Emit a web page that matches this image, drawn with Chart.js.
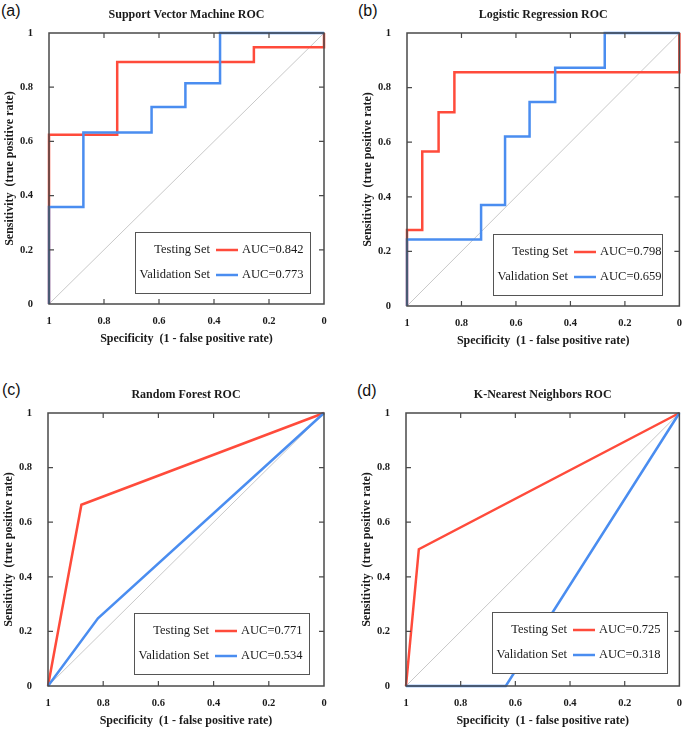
<!DOCTYPE html>
<html>
<head>
<meta charset="utf-8">
<script src="https://cdn.jsdelivr.net/npm/chart.js@4.4.1/dist/chart.umd.min.js"></script>
<style>
body { margin: 0; background: #fff; width: 685px; height: 730px; position: relative; overflow: hidden; }
canvas { position: absolute; }
.tag { position: absolute; font-family: "Liberation Sans", Arial, sans-serif; font-size: 16px; line-height: 16px; color: #111; }
</style>
</head>
<body>
<div class="tag" style="left:1px;top:3px">(a)</div>
<div class="tag" style="left:358px;top:3px">(b)</div>
<div class="tag" style="left:2px;top:382px">(c)</div>
<div class="tag" style="left:357px;top:383px">(d)</div>
<canvas id="svm" width="342" height="365" style="left:0;top:0"></canvas>
<canvas id="lr" width="343" height="365" style="left:342px;top:0"></canvas>
<canvas id="rf" width="342" height="365" style="left:0;top:365px"></canvas>
<canvas id="knn" width="343" height="365" style="left:342px;top:365px"></canvas>
<script>
// values (x = specificity, y = sensitivity)
const tickLabels = ['0', '0.2', '0.4', '0.6', '0.8', '1'];
const seriesNames = ['Testing Set', 'Validation Set'];

const svmTestX = [1, 1, 0.752, 0.752, 0.255, 0.255, 0, 0];
const svmTestY = [0, 0.625, 0.625, 0.893, 0.893, 0.947, 0.947, 1];
const svmValX = [1, 1, 0.875, 0.875, 0.627, 0.627, 0.504, 0.504, 0.378, 0.378, 0];
const svmValY = [0, 0.358, 0.358, 0.633, 0.633, 0.727, 0.727, 0.815, 0.815, 1, 1];

const lrTestX = [1, 1, 0.944, 0.944, 0.884, 0.884, 0.826, 0.826, 0, 0];
const lrTestY = [0, 0.278, 0.278, 0.566, 0.566, 0.710, 0.710, 0.856, 0.856, 1];
const lrValX = [1, 1, 0.728, 0.728, 0.640, 0.640, 0.550, 0.550, 0.456, 0.456, 0.274, 0.274, 0];
const lrValY = [0, 0.244, 0.244, 0.370, 0.370, 0.621, 0.621, 0.747, 0.747, 0.873, 0.873, 1, 1];

const rfTestX = [1, 0.879, 0];
const rfTestY = [0, 0.664, 1];
const rfValX = [1, 0.819, 0];
const rfValY = [0, 0.248, 1];

const knnTestX = [1, 0.953, 0];
const knnTestY = [0, 0.501, 1];
const knnValX = [1, 0.635, 0];
const knnValY = [0, 0, 1];

const diagX = [1, 0];
const diagY = [0, 1];

const aucSvm = ['AUC=0.842', 'AUC=0.773'];
const aucLr = ['AUC=0.798', 'AUC=0.659'];
const aucRf = ['AUC=0.771', 'AUC=0.534'];
const aucKnn = ['AUC=0.725', 'AUC=0.318'];

const RED = '#ff4b3b';
const BLUE = '#4a8df0';
const SERIF = '"Liberation Serif", "Times New Roman", serif';

function pts(xs, ys) {
    return xs.map((x, i) => ({ x: x, y: ys[i] }));
}

// frame, inner ticks, title and the AUC box
const rocDeco = {
    id: 'rocDeco',
    afterDatasetsDraw(chart, args, opts) {
        const ctx = chart.ctx;
        const a = chart.chartArea;
        const sx = chart.scales.x, sy = chart.scales.y;
        ctx.save();
        ctx.strokeStyle = '#4a4a4a';
        ctx.lineWidth = 1.5;
        ctx.strokeRect(a.left, a.top, a.right - a.left, a.bottom - a.top);
        ctx.lineWidth = 1.2;
        ctx.beginPath();
        [0.2, 0.4, 0.6, 0.8].forEach(v => {
            const px = sx.getPixelForValue(v);
            ctx.moveTo(px, a.bottom); ctx.lineTo(px, a.bottom - 5);
            ctx.moveTo(px, a.top); ctx.lineTo(px, a.top + 5);
            const py = sy.getPixelForValue(v);
            ctx.moveTo(a.left, py); ctx.lineTo(a.left + 5, py);
            ctx.moveTo(a.right, py); ctx.lineTo(a.right - 5, py);
        });
        ctx.stroke();

        ctx.fillStyle = '#1a1a1a';
        ctx.font = 'bold 12px ' + SERIF;
        ctx.textAlign = 'center';
        ctx.textBaseline = 'middle';
        ctx.fillText(opts.title, (a.left + a.right) / 2, a.top - 18.5);

        // legend box
        const bx = a.left + 86, bw = opts.boxWidth, bh = 61;
        const by = a.bottom - opts.boxBottom - bh;
        ctx.fillStyle = '#fff';
        ctx.fillRect(bx, by, bw, bh);
        ctx.strokeStyle = '#555';
        ctx.lineWidth = 1;
        ctx.strokeRect(bx + 0.5, by + 0.5, bw, bh);
        ctx.font = '12.5px ' + SERIF;
        [RED, BLUE].forEach((c, i) => {
            const ry = by + 18 + i * 25;
            ctx.fillStyle = '#1a1a1a';
            ctx.textAlign = 'right';
            ctx.fillText(seriesNames[i], bx + 75, ry);
            ctx.textAlign = 'left';
            ctx.fillText(opts.auc[i], bx + 107, ry);
            ctx.strokeStyle = c;
            ctx.lineWidth = 2.5;
            ctx.beginPath();
            ctx.moveTo(bx + 81, ry); ctx.lineTo(bx + 103, ry);
            ctx.stroke();
        });
        ctx.restore();
    }
};

function makeRoc(id, title, testX, testY, valX, valY, auc, pad, boxWidth, boxBottom) {
    const ctx = document.getElementById(id).getContext('2d');
    return new Chart(ctx, {
        type: 'scatter',
        data: {
            datasets: [
                { data: pts(diagX, diagY), borderColor: '#c8c8c8', borderWidth: 1, order: 3 },
                { data: pts(testX, testY), borderColor: RED, borderWidth: 2.5, order: 2 },
                { data: pts(valX, valY), borderColor: BLUE, borderWidth: 2.5, order: 1 }
            ]
        },
        options: {
            responsive: false,
            animation: false,
            showLine: true,
            elements: { point: { radius: 0 }, line: { borderJoinStyle: 'miter', borderCapStyle: 'butt' } },
            datasets: { scatter: { clip: 4 } },
            layout: { padding: pad },
            plugins: {
                legend: { display: false },
                tooltip: { enabled: false },
                rocDeco: { title: title, auc: auc, boxWidth: boxWidth, boxBottom: boxBottom }
            },
            scales: {
                x: {
                    type: 'linear', min: 0, max: 1, reverse: true,
                    grid: { display: false }, border: { display: false },
                    ticks: {
                        stepSize: 0.2, padding: 3, color: '#1a1a1a',
                        font: { family: SERIF, size: 10.5, weight: 'bold' },
                        callback: v => tickLabels[Math.round(v * 5)]
                    },
                    title: {
                        display: true, text: 'Specificity  (1 - false positive rate)', color: '#1a1a1a',
                        font: { family: SERIF, size: 12, weight: 'bold' }, padding: { top: 0, bottom: 2 }
                    },
                    afterFit: s => { s.height = 44; }
                },
                y: {
                    type: 'linear', min: 0, max: 1,
                    grid: { display: false }, border: { display: false },
                    ticks: {
                        stepSize: 0.2, padding: 8, color: '#1a1a1a',
                        font: { family: SERIF, size: 10.5, weight: 'bold' },
                        callback: v => tickLabels[Math.round(v * 5)]
                    },
                    title: {
                        display: true, text: 'Sensitivity  (true positive rate)', color: '#1a1a1a',
                        font: { family: SERIF, size: 12, weight: 'bold' }, padding: { top: 2, bottom: 0 }
                    },
                    afterFit: s => { s.width = 48; }
                }
            }
        },
        plugins: [rocDeco]
    });
}

makeRoc('svm', 'Support Vector Machine ROC', svmTestX, svmTestY, svmValX, svmValY, aucSvm,
    { left: 1, top: 33, right: 18, bottom: 17 }, 175, 11);
makeRoc('lr', 'Logistic Regression ROC', lrTestX, lrTestY, lrValX, lrValY, aucLr,
    { left: 17, top: 33, right: 3, bottom: 15 }, 169, 11);
makeRoc('rf', 'Random Forest ROC', rfTestX, rfTestY, rfValX, rfValY, aucRf,
    { left: 0, top: 48, right: 18, bottom: 0 }, 175, 12);
makeRoc('knn', 'K-Nearest Neighbors ROC', knnTestX, knnTestY, knnValX, knnValY, aucKnn,
    { left: 16, top: 48, right: 5, bottom: 0 }, 175, 13);
</script>
</body>
</html>
